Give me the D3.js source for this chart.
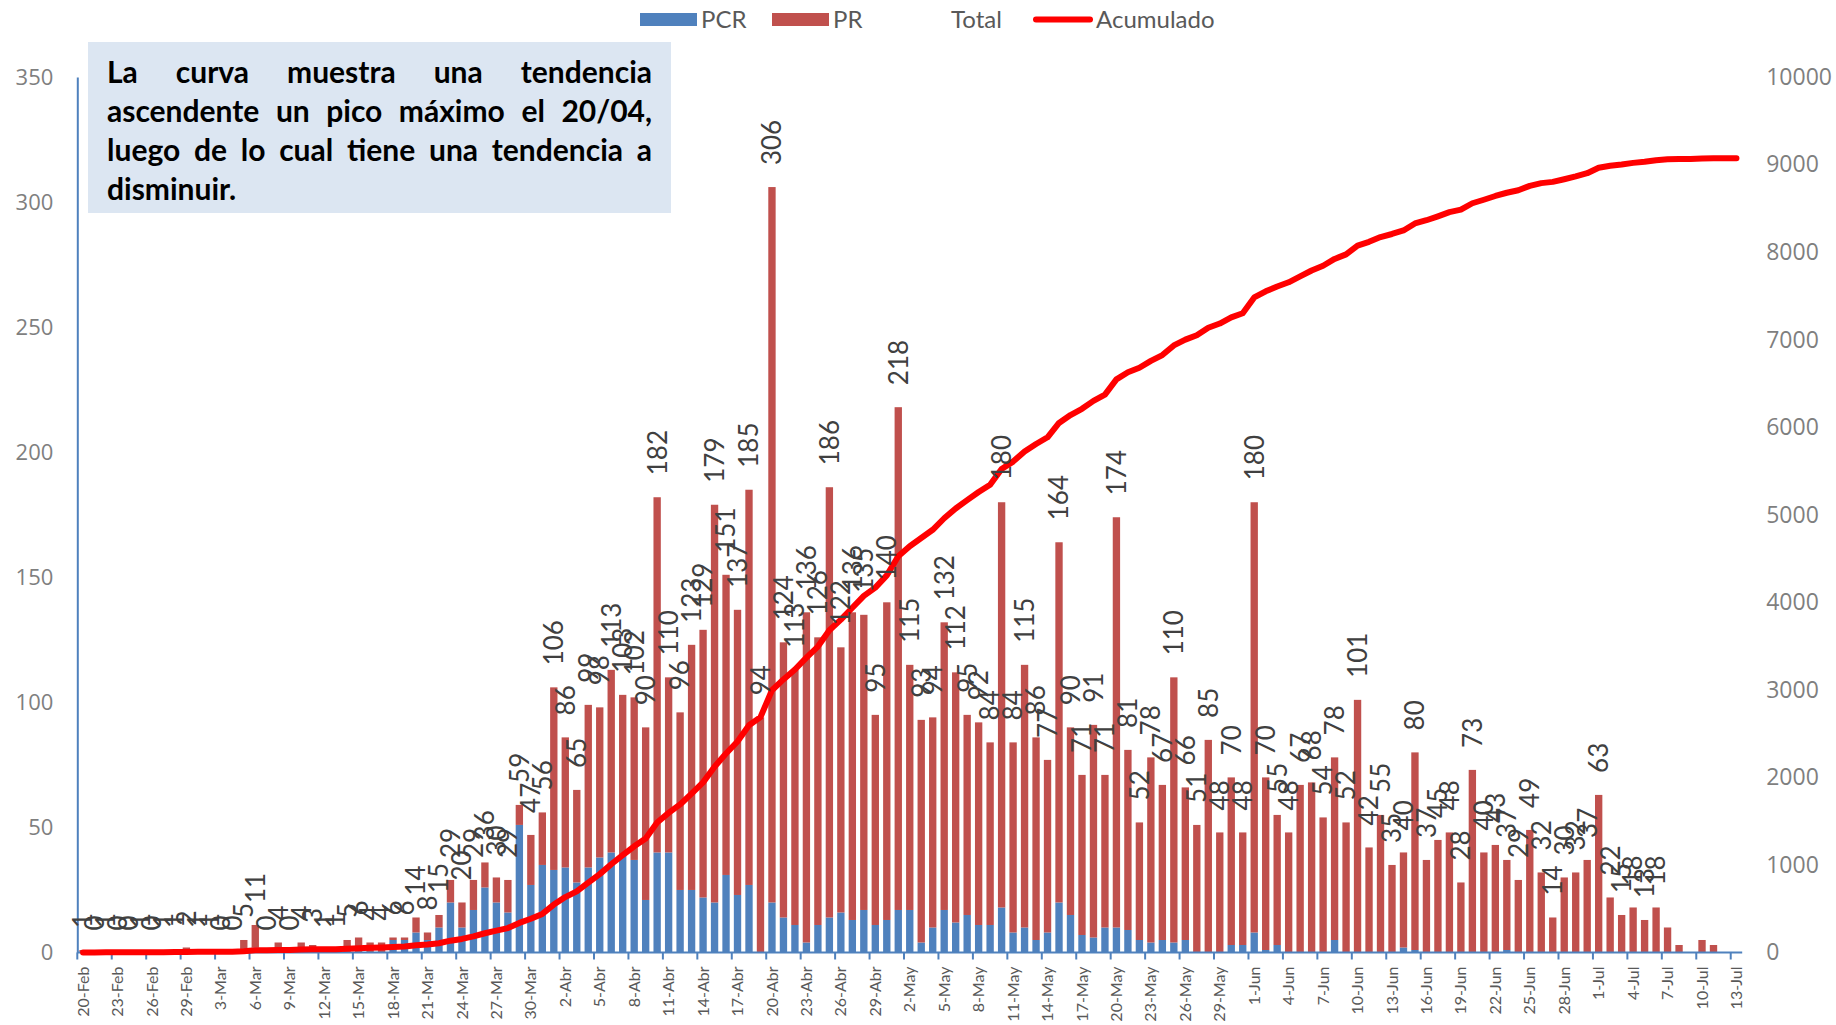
<!DOCTYPE html>
<html>
<head>
<meta charset="utf-8">
<script src="https://cdn.jsdelivr.net/npm/d3@7"></script>
<style>
  body { margin: 0; background: #fff; }
  svg { display: block; font-family: Lato, "Open Sans", sans-serif; }
</style>
</head>
<body>
<svg id="chart" width="1836" height="1025"></svg>
<script>
// daily PCR / PR positives, 20-Feb .. 13-Jul
const pcr = [
  0,0,0,0,0,0,0,0,0,1,0,0,0,0,
  0,2,0,1,0,0,0,0,0,0,0,0,0,5,5,
  8,5,10,20,10,17,26,20,16,51,27,35,33,
  34,28,34,38,40,39,37,21,40,40,25,25,22,20,31,
  23,27,0,20,14,11,4,11,14,16,13,17,11,13,
  17,17,4,10,17,12,15,11,11,18,8,10,5,8,
  20,15,7,6,10,10,9,5,4,5,4,5,0,0,
  0,3,3,8,1,3,0,0,0,0,5,0,0,
  0,0,0,2,1,0,0,0,0,0,0,0,1,0,0,0,0,0,0,0,
  0,0,0,0,0,0,0,0,0,0,0,0,0
];
const pr = [
  1,0,1,0,0,1,0,1,1,1,1,1,0,0,
  5,9,0,3,0,4,3,1,1,5,6,4,4,1,1,
  6,3,5,9,10,12,10,10,13,8,20,21,73,
  52,37,65,60,73,64,65,69,142,70,71,98,107,159,120,
  114,158,94,286,110,102,132,115,172,106,123,118,84,127,
  201,98,89,84,115,100,80,81,73,162,76,105,81,69,
  144,75,64,85,61,164,72,47,74,62,106,61,51,85,
  48,67,45,172,69,52,48,67,68,54,73,52,101,
  42,55,35,38,79,37,45,48,28,73,40,43,36,29,49,32,14,30,32,37,
  63,22,15,18,13,18,10,3,0,5,3,0,0
];
// "Total" series (labels only), ends 6-Jul
const total = [
  1,0,1,0,0,1,0,1,1,2,1,1,0,0,
  5,11,0,4,0,4,3,1,1,5,6,4,4,6,6,
  14,8,15,29,20,29,36,30,29,59,47,56,106,
  86,65,99,98,113,103,102,90,182,110,96,123,129,179,151,
  137,185,94,306,124,113,136,126,186,122,136,135,95,140,
  218,115,93,94,132,112,95,92,84,180,84,115,86,77,
  164,90,71,91,71,174,81,52,78,67,110,66,51,85,
  48,70,48,180,70,55,48,67,68,54,78,52,101,
  42,55,35,40,80,37,45,48,28,73,40,43,37,29,49,32,14,30,32,37,
  63,22,15,18,13,18
];
const acumulado = [
  1,1,2,2,2,3,3,4,5,7,8,9,9,9,
  14,25,25,29,29,33,36,37,38,43,49,53,57,63,69,
  83,91,106,135,155,184,220,250,279,338,385,441,547,
  633,698,797,895,1008,1111,1213,1303,1485,1595,1691,1814,1943,2122,2273,
  2410,2595,2689,2995,3119,3232,3368,3494,3680,3802,3938,4073,4168,4308,
  4526,4641,4734,4828,4960,5072,5167,5259,5343,5523,5607,5722,5808,5885,
  6049,6139,6210,6301,6372,6546,6627,6679,6757,6824,6934,7000,7051,7136,
  7184,7254,7302,7482,7552,7607,7655,7722,7790,7844,7922,7974,8075,
  8117,8172,8207,8247,8327,8364,8409,8457,8485,8558,8598,8641,8678,8707,8756,8788,8802,8832,8864,8901,
  8964,8986,9001,9019,9032,9050,9060,9063,9063,9068,9071,9071,9071
];
const tickLabels = [
  "20-Feb","23-Feb","26-Feb","29-Feb","3-Mar","6-Mar","9-Mar","12-Mar","15-Mar","18-Mar",
  "21-Mar","24-Mar","27-Mar","30-Mar","2-Abr","5-Abr","8-Abr","11-Abr","14-Abr","17-Abr",
  "20-Abr","23-Abr","26-Abr","29-Abr","2-May","5-May","8-May","11-May","14-May","17-May",
  "20-May","23-May","26-May","29-May","1-Jun","4-Jun","7-Jun","10-Jun","13-Jun","16-Jun",
  "19-Jun","22-Jun","25-Jun","28-Jun","1-Jul","4-Jul","7-Jul","10-Jul","13-Jul"
];
const leftTicks = [0, 50, 100, 150, 200, 250, 300, 350];
const rightTicks = [0, 1000, 2000, 3000, 4000, 5000, 6000, 7000, 8000, 9000, 10000];
const noteLines = [
  "La curva muestra una tendencia",
  "ascendente un pico máximo el 20/04,",
  "luego de lo cual tiene una tendencia a",
  "disminuir."
];

const blue = '#4f81bd';
const red = '#c0504d';

const svg = d3.select('#chart');
const plotLeft = 77.3, plotRight = 1742.2, plotTop = 77, plotBottom = 952.5;

const x = d3.scaleBand()
  .domain(d3.range(pcr.length))
  .range([plotLeft, plotRight])
  .paddingInner(0.36)
  .paddingOuter(0.18);
const yL = d3.scaleLinear().domain([0, 350]).range([plotBottom, plotTop]);
const yR = d3.scaleLinear().domain([0, 10000]).range([plotBottom, plotTop]);
const cx = (i) => x(i) + x.bandwidth() / 2;

// stacked bars
const rows = pcr.map((d, i) => ({ PCR: d, PR: pr[i] }));
const series = d3.stack().keys(['PCR', 'PR'])(rows);
svg.append('g')
  .selectAll('g')
  .data(series)
  .join('g')
  .attr('fill', (s) => (s.key === 'PCR' ? blue : red))
  .selectAll('rect')
  .data((s) => s.map((d, i) => [d[0], d[1], i]))
  .join('rect')
  .attr('x', (d) => x(d[2]))
  .attr('width', x.bandwidth())
  .attr('y', (d) => yL(d[1]))
  .attr('height', (d) => yL(d[0]) - yL(d[1]));

// x axis
const xAxis = d3.axisBottom(x)
  .tickValues(d3.range(0, pcr.length, 3))
  .tickFormat((d, i) => tickLabels[i])
  .tickSize(7)
  .tickSizeOuter(0);
const gx = svg.append('g')
  .attr('transform', `translate(0,${plotBottom})`)
  .call(xAxis);
gx.select('.domain').attr('stroke', blue).attr('stroke-width', 2)
  .attr('d', `M${plotLeft},0H${plotRight}`);
gx.selectAll('.tick line')
  .attr('stroke', blue).attr('stroke-width', 2)
  .attr('x1', -x.step() / 2).attr('x2', -x.step() / 2);
gx.selectAll('.tick text')
  .attr('transform', 'rotate(-90)')
  .attr('x', -14).attr('y', 0).attr('dy', '0.35em')
  .attr('text-anchor', 'end')
  .attr('fill', '#595959')
  .style('font-size', '16px')
  .style('font-family', 'Lato, sans-serif');

// left axis
const gyl = svg.append('g')
  .attr('transform', `translate(${plotLeft},0)`)
  .call(d3.axisLeft(yL).tickValues(leftTicks).tickSize(0).tickSizeOuter(0).tickPadding(24));
gyl.select('.domain').attr('stroke', blue).attr('stroke-width', 2);
gyl.selectAll('text').attr('fill', '#7f7f7f').style('font-size', '22px')
  .style('font-family', '"Open Sans", sans-serif');

// right axis
const gyr = svg.append('g')
  .attr('transform', `translate(${plotRight},0)`)
  .call(d3.axisRight(yR).tickValues(rightTicks).tickFormat(d3.format('d')).tickSize(0).tickPadding(24));
gyr.select('.domain').remove();
gyr.selectAll('text').attr('fill', '#7f7f7f').style('font-size', '23px')
  .style('font-family', '"Open Sans", sans-serif');

// cumulative line
const line = d3.line().x((d, i) => cx(i)).y((d) => yR(d));
svg.append('path')
  .datum(acumulado)
  .attr('d', line)
  .attr('fill', 'none')
  .attr('stroke', '#ff0000')
  .attr('stroke-width', 6)
  .attr('stroke-linejoin', 'round')
  .attr('stroke-linecap', 'round');

// total labels
svg.append('g')
  .selectAll('text')
  .data(total)
  .join('text')
  .attr('transform', (d, i) => `translate(${cx(i)},${yL(d) - 22}) rotate(-90)`)
  .attr('dy', '0.36em')
  .attr('fill', '#404040')
  .style('font-size', '26px')
  .text((d) => d);

// legend
const lg = svg.append('g').style('font-size', '24px').attr('fill', '#595959');
lg.append('rect').attr('x', 640).attr('y', 13).attr('width', 57).attr('height', 13).attr('fill', blue);
lg.append('text').attr('x', 701).attr('y', 28).text('PCR');
lg.append('rect').attr('x', 772).attr('y', 13).attr('width', 57).attr('height', 13).attr('fill', red);
lg.append('text').attr('x', 833).attr('y', 28).text('PR');
lg.append('text').attr('x', 951).attr('y', 28).text('Total');
lg.append('line').attr('x1', 1036).attr('x2', 1090).attr('y1', 19.5).attr('y2', 19.5)
  .attr('stroke', '#ff0000').attr('stroke-width', 6).attr('stroke-linecap', 'round');
lg.append('text').attr('x', 1096).attr('y', 28).text('Acumulado');

// note box
const note = svg.append('g');
note.append('rect').attr('x', 88).attr('y', 42).attr('width', 583).attr('height', 171).attr('fill', '#dce6f2');
const textLeft = 107, textWidth = 545;
noteLines.forEach((t, i) => {
  const el = note.append('text')
    .attr('x', textLeft)
    .attr('y', 83 + i * 39)
    .attr('fill', '#000')
    .style('font-size', '30px')
    .style('font-weight', 'bold')
    .text(t);
  const words = t.split(' ').length;
  if (i < noteLines.length - 1 && words > 1) {
    const len = el.node().getComputedTextLength();
    el.attr('word-spacing', (textWidth - len) / (words - 1));
  }
});
</script>
</body>
</html>
